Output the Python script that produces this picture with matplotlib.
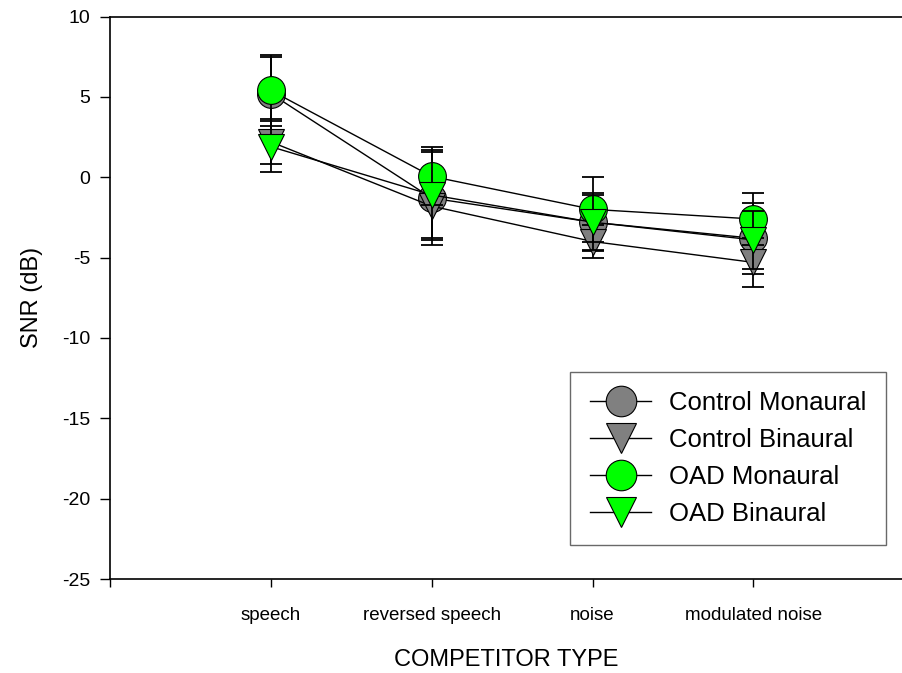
import matplotlib
matplotlib.use("Agg")
import matplotlib.pyplot as plt

plt.rcParams['font.family'] = ['Liberation Sans', 'DejaVu Sans']
plt.rcParams['axes.unicode_minus'] = False

categories = ["speech", "reversed speech", "noise", "modulated noise"]
x = [1, 2, 3, 4]

# means (dB) and error bar half-lengths
control_mon = [5.2, -1.3, -2.8, -3.8]
control_mon_err = [2.3, 2.9, 1.8, 2.2]
control_bin = [2.2, -1.8, -4.0, -5.3]
control_bin_err = [1.4, 2.0, 1.0, 1.5]
oad_mon = [5.4, 0.05, -2.0, -2.6]
oad_mon_err = [2.2, 1.8, 2.0, 1.6]
oad_bin = [1.9, -1.1, -2.8, -3.9]
oad_bin_err = [1.6, 2.8, 1.7, 1.8]

series = [
    ("Control Monaural", control_mon, control_mon_err, "o", "#808080"),
    ("Control Binaural", control_bin, control_bin_err, "v", "#808080"),
    ("OAD Monaural", oad_mon, oad_mon_err, "o", "#00ff00"),
    ("OAD Binaural", oad_bin, oad_bin_err, "v", "#00ff00"),
]

fig = plt.figure(figsize=(9.03, 6.73), dpi=100)
ax = fig.add_axes([110/903, 1 - 579/673, 1 - 110/903, (579 - 16.5)/673])

z = 2
for name, y, e, m, c in series:
    ax.errorbar(x, y, yerr=e, fmt="none", ecolor="black", elinewidth=1.3,
                capsize=8, capthick=1.3, zorder=z)
    ax.plot(x, y, color="black", lw=1, marker=m, ms=20 if m == "o" else 19,
            mfc=c, mec="black", mew=0.8, label=name, zorder=z + 0.5)
    z += 1

ax.set_xlim(0, 4.93)
ax.set_ylim(-25, 10)
ax.set_xticks([0] + x)
ax.set_xticklabels([""] + categories, fontsize=13.5)
ax.set_yticks(range(-25, 11, 5))
ax.tick_params(axis="y", labelsize=14, length=7, width=1, direction="out", pad=7)
ax.tick_params(axis="x", length=6, width=1, direction="out", pad=14)
ax.spines["right"].set_visible(False)
for s in ["left", "top", "bottom"]:
    ax.spines[s].set_linewidth(1.2)

ax.set_xlabel("COMPETITOR TYPE", fontsize=17, labelpad=18)
ax.set_ylabel("SNR (dB)", fontsize=17, labelpad=14)

leg = ax.legend(loc="lower right", fontsize=18.5, markerscale=1.1,
                frameon=True, fancybox=False, handlelength=2.4,
                labelspacing=0.5, borderpad=0.75, handletextpad=0.7,
                borderaxespad=0)
leg.get_frame().set_edgecolor("#444444")
leg.get_frame().set_linewidth(1)
# place legend box at pixel location
leg.set_bbox_to_anchor((886/903, 1 - 545/673), transform=fig.transFigure)

fig.savefig("out.png", dpi=100)
